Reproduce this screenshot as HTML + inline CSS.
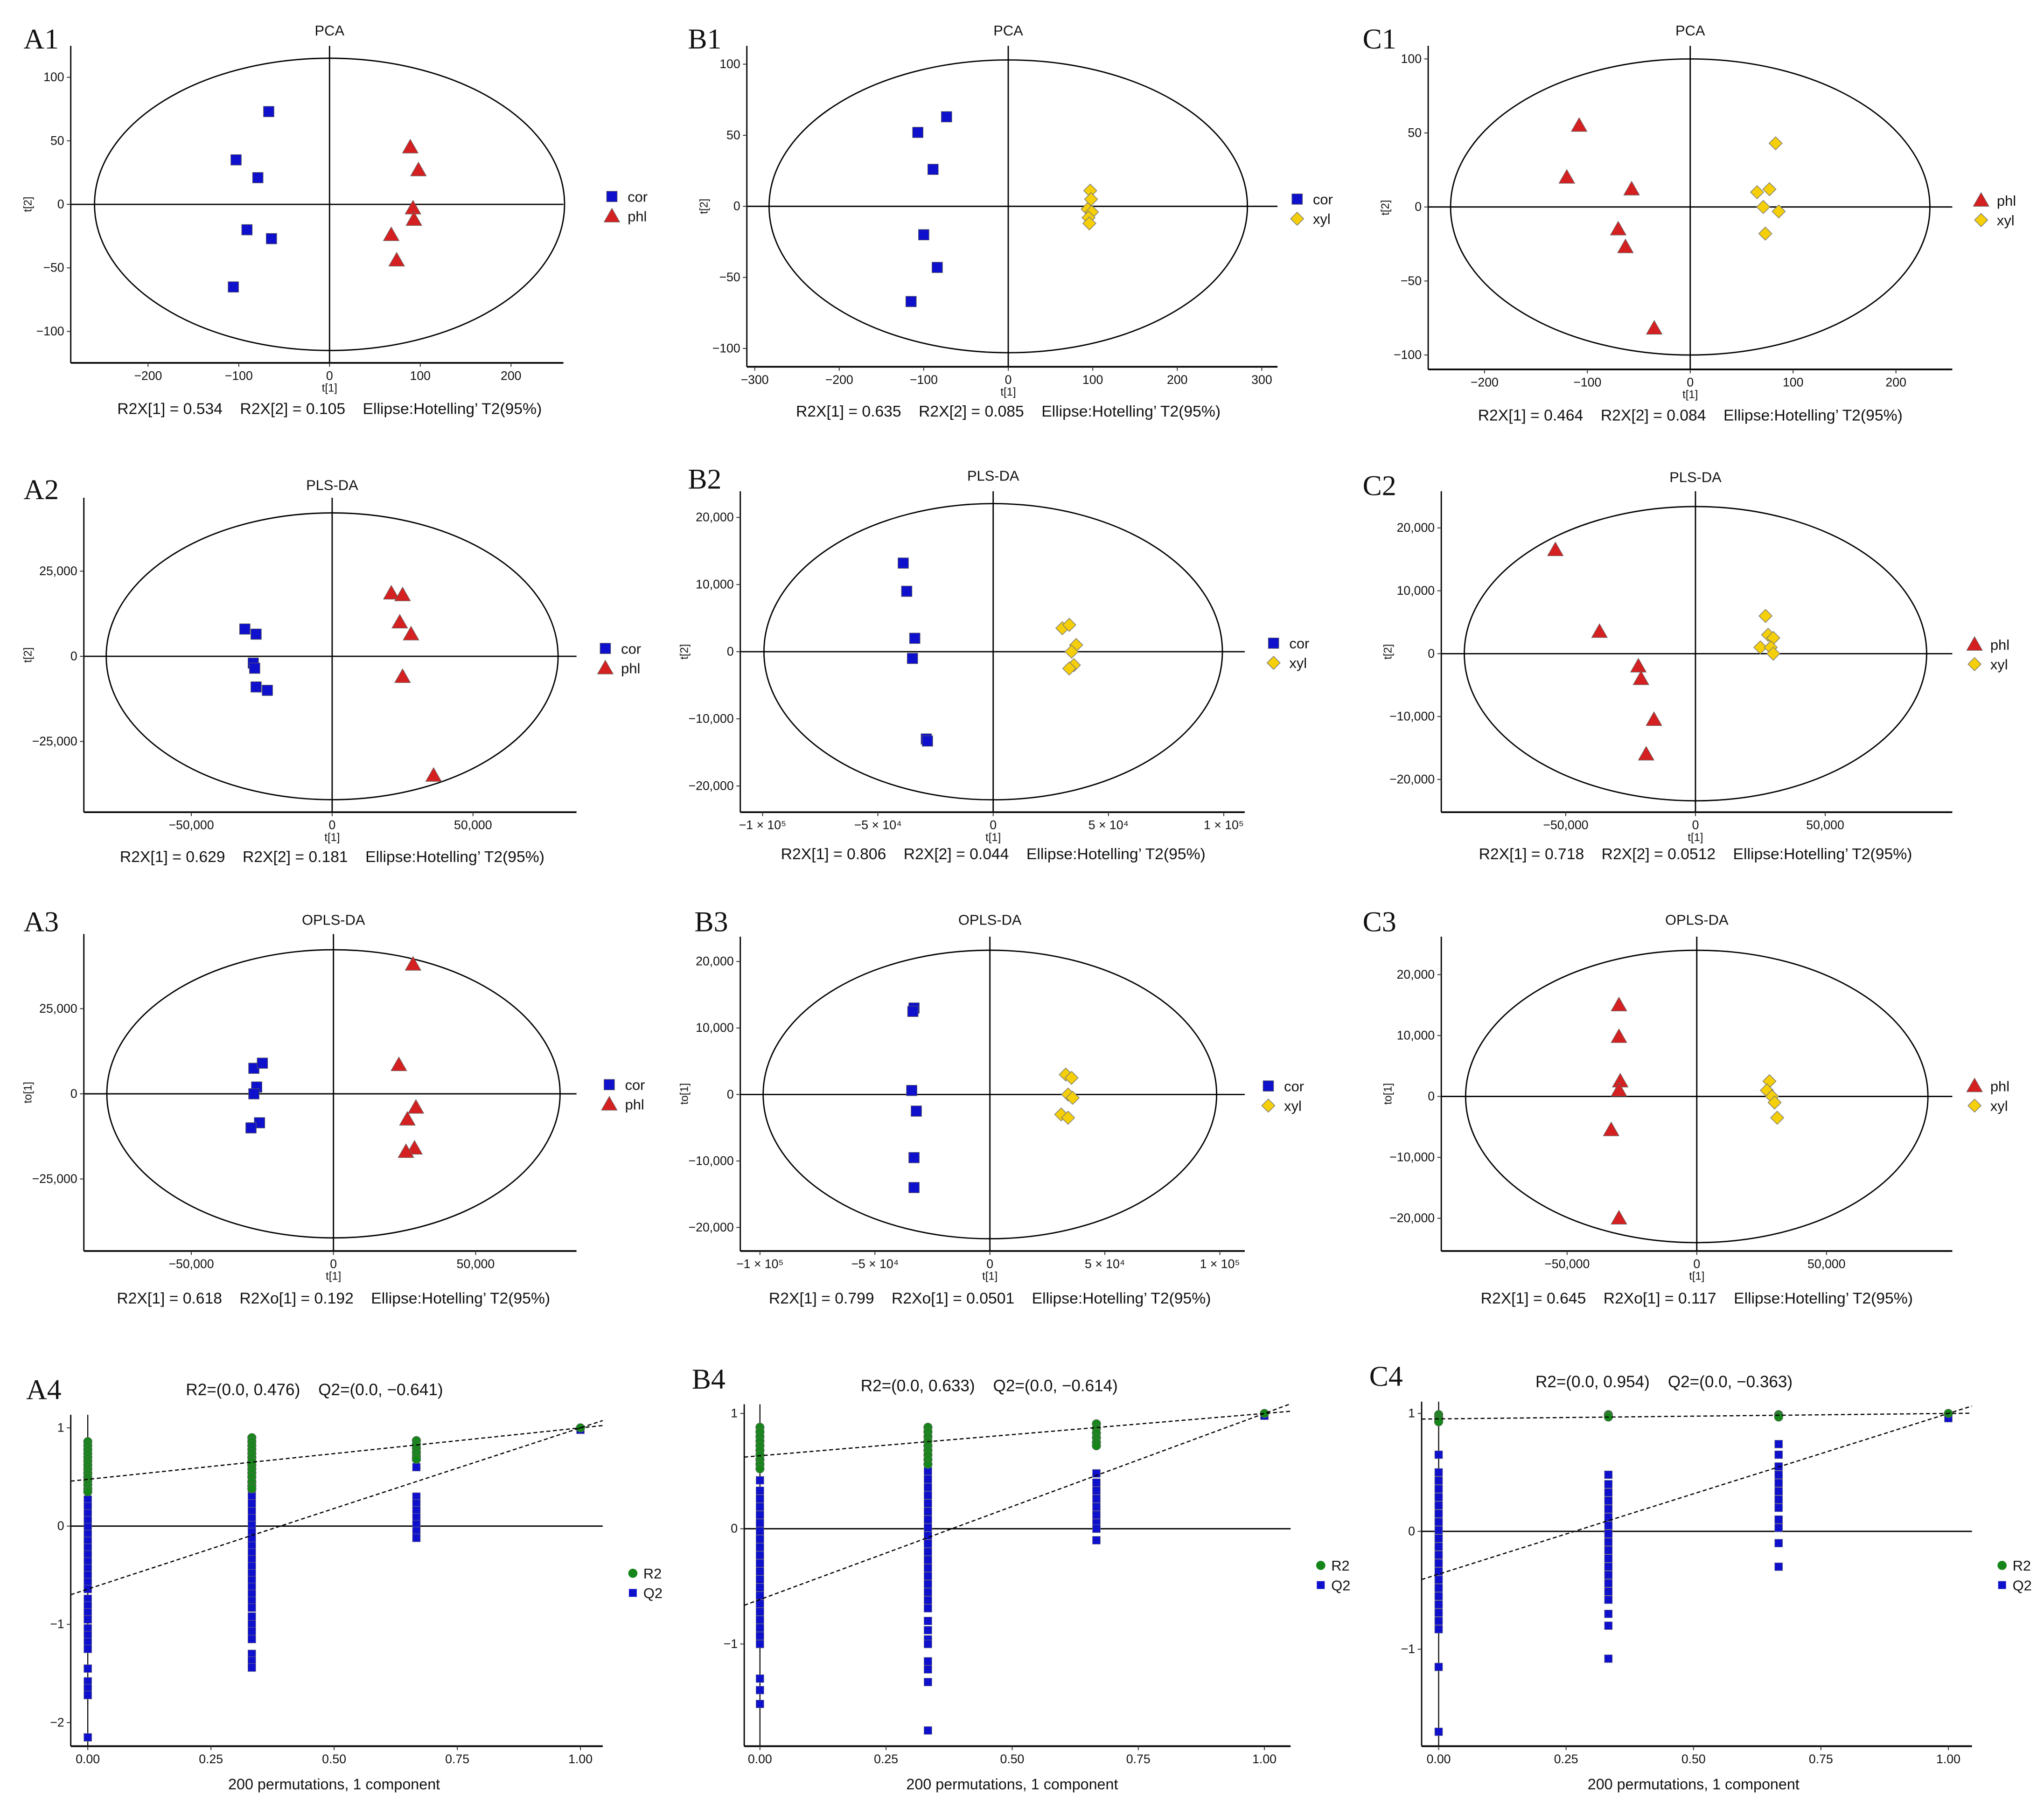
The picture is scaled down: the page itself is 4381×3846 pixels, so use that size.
<!DOCTYPE html>
<html><head><meta charset="utf-8"><style>
html,body{margin:0;padding:0;background:#fff;}
svg{display:block;}
text{font-family:"Liberation Sans",Arial,sans-serif;white-space:pre;}
.lbl{font-family:"Liberation Serif",serif;}
</style></head><body>
<svg id="fig" xmlns="http://www.w3.org/2000/svg" width="4381" height="3846" viewBox="0 0 1560 1369.5" preserveAspectRatio="none"></svg>
<script>
// ---------- Data (score plots) ----------
const a1_cor=[[-67,73],[-103,35],[-79,21],[-91,-20],[-64,-27],[-106,-65]];
const a1_phl=[[89,45],[98,27],[92,-3],[93,-12],[68,-24],[74,-44]];
const b1_cor=[[-73,63],[-107,52],[-89,26],[-100,-20],[-84,-43],[-115,-67]];
const b1_xyl=[[97,11],[98,5],[94,-2],[99,-4],[95,-8],[96,-12]];
const c1_phl=[[-108,55],[-120,20],[-57,12],[-70,-15],[-63,-27],[-35,-82]];
const c1_xyl=[[83,43],[65,10],[77,12],[71,0],[86,-3],[73,-18]];
const a2_cor=[[-31000,8000],[-27000,6500],[-28000,-2000],[-27500,-3500],[-27000,-9000],[-23000,-10000]];
const a2_phl=[[21000,18500],[25000,18000],[24000,10000],[28000,6500],[25000,-6000],[36000,-35000]];
const b2_cor=[[-39000,13200],[-37500,9000],[-34000,2000],[-35000,-1000],[-29000,-13000],[-28500,-13300]];
const b2_xyl=[[30000,3500],[33000,4000],[36000,1000],[34000,0],[35000,-2000],[33000,-2500]];
const c2_phl=[[-54000,16500],[-37000,3500],[-22000,-2000],[-21000,-4000],[-16000,-10500],[-19000,-16000]];
const c2_xyl=[[27000,6000],[28000,3000],[30000,2500],[25000,1000],[29000,1000],[30000,0]];
const a3_cor=[[-28000,7500],[-25000,9000],[-27000,2000],[-28000,0],[-26000,-8500],[-29000,-10000]];
const a3_phl=[[28000,38000],[23000,8500],[29000,-4000],[26000,-7500],[28500,-16000],[25500,-17000]];
const b3_cor=[[-33000,13000],[-33500,12500],[-34000,600],[-32000,-2500],[-33000,-9500],[-33000,-14000]];
const b3_xyl=[[33000,3000],[35500,2500],[34000,0],[36000,-500],[31000,-3000],[34000,-3500]];
const c3_phl=[[-30000,15000],[-30000,9800],[-29500,2500],[-30000,1000],[-33000,-5500],[-30000,-20000]];
const c3_xyl=[[28000,2500],[27000,1000],[29000,0],[30000,-1000],[31000,-3500]];
// tick labels
const pcaTicksA1x=[-200,-100,0,100,200], pcaTicksA1y=[100,50,0,-50,-100];
const pcaTicksB1x=[-300,-200,-100,0,100,200,300];
const plsTicks50k=[-50000,0,50000], plsTicks25k=[25000,0,-25000];
const plsTicks1e5=[-100000,-50000,0,50000,100000], plsTicks10k=[20000,10000,0,-10000,-20000];
const sciLabels=["\u22121 \u00d7 10\u2075","\u22125 \u00d7 10\u2074","0","5 \u00d7 10\u2074","1 \u00d7 10\u2075"];
// ---------- Data (permutation tests) ----------
const permX=[0,0.333,0.667,1];
const permTicksX=[0,0.25,0.5,0.75,1];
const a4_r2=[[0.86,0.82,0.78,0.74,0.7,0.66,0.62,0.58,0.54,0.5,0.46,0.42,0.38,0.35],[0.9,0.86,0.82,0.78,0.74,0.7,0.66,0.62,0.58,0.54,0.5,0.45,0.41,0.38],[0.87,0.83,0.79,0.75,0.71,0.68],[1]];
const a4_q2=[[0.27,0.2,0.13,0.06,-0.01,-0.08,-0.15,-0.22,-0.29,-0.36,-0.43,-0.5,-0.57,-0.64,-0.74,-0.81,-0.88,-0.95,-1.04,-1.11,-1.18,-1.25,-1.45,-1.58,-1.65,-1.72,-2.15],[0.45,0.38,0.3,0.23,0.15,0.08,0.01,-0.06,-0.13,-0.2,-0.27,-0.34,-0.41,-0.48,-0.55,-0.62,-0.69,-0.76,-0.83,-0.92,-1.0,-1.07,-1.15,-1.3,-1.37,-1.44],[0.6,0.3,0.23,0.16,0.09,0.02,-0.05,-0.12],[0.98]];
const b4_r2=[[0.88,0.84,0.8,0.76,0.72,0.68,0.64,0.6,0.56,0.52],[0.88,0.84,0.8,0.76,0.72,0.68,0.64,0.6,0.56],[0.91,0.87,0.83,0.79,0.75,0.72],[1]];
const b4_q2=[[0.55,0.42,0.33,0.26,0.19,0.12,0.05,-0.02,-0.09,-0.16,-0.23,-0.3,-0.37,-0.44,-0.51,-0.58,-0.65,-0.72,-0.79,-0.86,-0.93,-1.0,-1.3,-1.4,-1.52],[0.5,0.43,0.36,0.29,0.22,0.15,0.08,0.01,-0.06,-0.13,-0.2,-0.27,-0.34,-0.41,-0.48,-0.55,-0.62,-0.69,-0.8,-0.88,-0.96,-1.0,-1.15,-1.22,-1.33,-1.75],[0.48,0.4,0.33,0.26,0.19,0.12,0.05,0.0,-0.1],[0.98]];
const c4_r2=[[0.99,0.97,0.95,0.93],[0.99,0.98,0.97],[0.99,0.98,0.97],[1]];
const c4_q2=[[0.65,0.5,0.43,0.36,0.29,0.22,0.15,0.08,0.01,-0.06,-0.13,-0.2,-0.27,-0.34,-0.41,-0.48,-0.55,-0.62,-0.69,-0.76,-0.83,-1.15,-1.7],[0.48,0.4,0.33,0.26,0.19,0.12,0.05,-0.02,-0.09,-0.16,-0.23,-0.3,-0.37,-0.44,-0.51,-0.58,-0.7,-0.8,-1.08],[0.74,0.65,0.55,0.48,0.41,0.34,0.27,0.2,0.1,0.03,-0.1,-0.3],[0.96]];
const a4_int=[0.476,-0.641], b4_int=[0.633,-0.614], c4_int=[0.954,-0.363];

const NS="http://www.w3.org/2000/svg";
const svg=document.getElementById('fig');
function mk(tag,attrs,parent){const e=document.createElementNS(NS,tag);for(const k in attrs)e.setAttribute(k,attrs[k]);(parent||svg).appendChild(e);return e;}
function txt(s,x,y,size,anchor,parent,cls){const t=mk('text',{x:x,y:y,'font-size':size,'text-anchor':anchor||'middle',fill:'#111'},parent);if(cls)t.setAttribute('class',cls);t.textContent=s;return t;}
function lin(v0,p0,v1,p1){return v=>p0+(v-v0)*(p1-p0)/(v1-v0);}
function fmt(v){if(v===0)return"0";let s=Math.abs(v)>=1000?Math.abs(v).toLocaleString('en-US'):String(Math.abs(v));return (v<0?"\u2212":"")+s;}
const colors={cor:'#0f10cc',phl:'#d42020',xyl:'#f5cf0a'};
function marker(kind,cx,cy,g){
  let e;
  if(kind==='cor'){e=mk('rect',{x:cx-4,y:cy-4,width:8,height:8,fill:colors.cor,stroke:'#555','stroke-width':0.4},g);}
  else if(kind==='phl'){e=mk('polygon',{points:`${cx},${cy-6} ${cx-6},${cy+4.5} ${cx+6},${cy+4.5}`,fill:colors.phl,stroke:'#666','stroke-width':0.4},g);}
  else {e=mk('polygon',{points:`${cx},${cy-5} ${cx+5},${cy} ${cx},${cy+5} ${cx-5},${cy}`,fill:colors.xyl,stroke:'#777','stroke-width':0.5},g);}
  return e;
}
function scorePanel(p){
  const g=mk('g',{});
  
  
  const X=lin(p.xt[0],p.xp[0],p.xt[1],p.xp[1]), Y=lin(p.yt[0],p.yp[0],p.yt[1],p.yp[1]);
  const L=p.box[0],T=p.box[1],R=p.box[2],B=p.box[3];
  const lab=txt(p.label,p.lx,p.ly,22,'start',g,'lbl');
  
  
  const tt=txt(p.title,X(0),p.ty,11,'middle',g);
  
  
  mk('line',{x1:L,y1:T,x2:L,y2:B,stroke:'#000','stroke-width':1},g);
  mk('line',{x1:L,y1:B,x2:R,y2:B,stroke:'#000','stroke-width':1.3},g);
  mk('line',{x1:X(0),y1:T,x2:X(0),y2:B,stroke:'#000','stroke-width':1},g);
  mk('line',{x1:L,y1:Y(0),x2:R,y2:Y(0),stroke:'#000','stroke-width':1},g);
  const el=mk('ellipse',{cx:X(0),cy:Y(0),rx:Math.abs(X(p.ell[0])-X(0)),ry:Math.abs(Y(p.ell[1])-Y(0)),fill:'none',stroke:'#000','stroke-width':1},g);
  
  
  p.xticks.forEach((v,i)=>{mk('line',{x1:X(v),y1:B,x2:X(v),y2:B+3,stroke:'#333','stroke-width':0.7},g);
    const t=txt(p.xlab?p.xlab[i]:fmt(v),X(v),B+13,9.5,'middle',g);
    
    });
  p.yticks.forEach(v=>{mk('line',{x1:L-3,y1:Y(v),x2:L,y2:Y(v),stroke:'#333','stroke-width':0.7},g);
    const t=txt(fmt(v),L-5,Y(v)+3,9.5,'end',g);
    
    });
  const xl=txt(p.xname,X(0),B+22,8.5,'middle',g);
  
  
  const yl=txt(p.yname,0,0,8.5,'middle',g);
  yl.setAttribute('transform',`translate(${p.ynx},${(T+B)/2}) rotate(-90)`);
  
  
  p.groups.forEach(([kind,data])=>{data.forEach(d=>{const m=marker(kind,X(d[0]),Y(d[1]),g);
    
    });});
  p.groups.forEach(([kind],i)=>{const m=marker(kind,p.leg[0],p.leg[1]+i*15,g);
    
    
    const t=txt(kind,p.leg[0]+12,p.leg[1]+i*15+4,11,'start',g);
    
    });
  const f=txt(p.foot,X(0),p.fy,12,'middle',g);
  
  
}
const panels=[
 {id:'a1',label:'A1',lx:18,ly:37,title:'PCA',ty:27,box:[54,35,430,277],xt:[-200,200],xp:[113,390],yt:[100,-100],yp:[59,253],ell:[259,115],xticks:pcaTicksA1x,yticks:pcaTicksA1y,xname:'t[1]',yname:'t[2]',ynx:24,groups:[['cor',a1_cor],['phl',a1_phl]],leg:[467,150],foot:'R2X[1] = 0.534    R2X[2] = 0.105    Ellipse:Hotelling\u2019 T2(95%)',fy:316},
 {id:'b1',label:'B1',lx:525,ly:37,title:'PCA',ty:27,box:[570,35,975,280],xt:[-300,300],xp:[576,963],yt:[100,-100],yp:[49,266],ell:[283,103],xticks:pcaTicksB1x,yticks:pcaTicksA1y,xname:'t[1]',yname:'t[2]',ynx:540,groups:[['cor',b1_cor],['xyl',b1_xyl]],leg:[990,152],foot:'R2X[1] = 0.635    R2X[2] = 0.085    Ellipse:Hotelling\u2019 T2(95%)',fy:318},
 {id:'c1',label:'C1',lx:1040,ly:37,title:'PCA',ty:27,box:[1090,35,1490,282],xt:[-200,200],xp:[1133,1447],yt:[100,-100],yp:[45,271],ell:[233,100],xticks:pcaTicksA1x,yticks:pcaTicksA1y,xname:'t[1]',yname:'t[2]',ynx:1060,groups:[['phl',c1_phl],['xyl',c1_xyl]],leg:[1512,153],foot:'R2X[1] = 0.464    R2X[2] = 0.084    Ellipse:Hotelling\u2019 T2(95%)',fy:321},
 {id:'a2',label:'A2',lx:18,ly:381,title:'PLS-DA',ty:374,box:[64,380,440,620],xt:[-50000,50000],xp:[146,361],yt:[25000,-25000],yp:[436,566],ell:[80200,42100],xticks:plsTicks50k,yticks:plsTicks25k,xname:'t[1]',yname:'t[2]',ynx:24,groups:[['cor',a2_cor],['phl',a2_phl]],leg:[462,495],foot:'R2X[1] = 0.629    R2X[2] = 0.181    Ellipse:Hotelling\u2019 T2(95%)',fy:658},
 {id:'b2',label:'B2',lx:525,ly:373,title:'PLS-DA',ty:367,box:[565,375,950,620],xt:[-100000,100000],xp:[582,934],yt:[20000,-20000],yp:[395,600],ell:[99400,22060],xticks:plsTicks1e5,xlab:sciLabels,yticks:plsTicks10k,xname:'t[1]',yname:'t[2]',ynx:525,groups:[['cor',b2_cor],['xyl',b2_xyl]],leg:[972,491],foot:'R2X[1] = 0.806    R2X[2] = 0.044    Ellipse:Hotelling\u2019 T2(95%)',fy:656},
 {id:'c2',label:'C2',lx:1040,ly:378,title:'PLS-DA',ty:368,box:[1100,375,1490,620],xt:[-50000,50000],xp:[1195,1393],yt:[20000,-20000],yp:[403,595],ell:[89100,23400],xticks:plsTicks50k,yticks:plsTicks10k,xname:'t[1]',yname:'t[2]',ynx:1062,groups:[['phl',c2_phl],['xyl',c2_xyl]],leg:[1507,492],foot:'R2X[1] = 0.718    R2X[2] = 0.0512    Ellipse:Hotelling\u2019 T2(95%)',fy:656},
 {id:'a3',label:'A3',lx:18,ly:711,title:'OPLS-DA',ty:706,box:[64,713,440,955],xt:[-50000,50000],xp:[146,363],yt:[25000,-25000],yp:[770,900],ell:[79700,42300],xticks:plsTicks50k,yticks:plsTicks25k,xname:'t[1]',yname:'to[1]',ynx:24,groups:[['cor',a3_cor],['phl',a3_phl]],leg:[465,828],foot:'R2X[1] = 0.618    R2Xo[1] = 0.192    Ellipse:Hotelling\u2019 T2(95%)',fy:995},
 {id:'b3',label:'B3',lx:530,ly:711,title:'OPLS-DA',ty:706,box:[565,715,950,955],xt:[-100000,100000],xp:[580,931],yt:[20000,-20000],yp:[734,937],ell:[98600,21700],xticks:plsTicks1e5,xlab:sciLabels,yticks:plsTicks10k,xname:'t[1]',yname:'to[1]',ynx:525,groups:[['cor',b3_cor],['xyl',b3_xyl]],leg:[968,829],foot:'R2X[1] = 0.799    R2Xo[1] = 0.0501    Ellipse:Hotelling\u2019 T2(95%)',fy:995},
 {id:'c3',label:'C3',lx:1040,ly:711,title:'OPLS-DA',ty:706,box:[1100,715,1490,955],xt:[-50000,50000],xp:[1196,1394],yt:[20000,-20000],yp:[744,930],ell:[89100,24000],xticks:plsTicks50k,yticks:plsTicks10k,xname:'t[1]',yname:'to[1]',ynx:1062,groups:[['phl',c3_phl],['xyl',c3_xyl]],leg:[1507,829],foot:'R2X[1] = 0.645    R2Xo[1] = 0.117    Ellipse:Hotelling\u2019 T2(95%)',fy:995}
];
panels.forEach(scorePanel);

function permPanel(p){
  const g=mk('g',{});
  
  
  const X=lin(0,p.xp[0],1,p.xp[1]), Y=lin(1,p.yp[0],0,p.yp[1]);
  const L=p.box[0],T=p.box[1],R=p.box[2],B=p.box[3];
  const lab=txt(p.label,p.lx,p.ly,22,'start',g,'lbl');
  
  
  const tt=txt(`R2=(0.0, ${p.int[0].toFixed(3)})    Q2=(0.0, \u2212${Math.abs(p.int[1]).toFixed(3)})`,p.tx,p.ty,12.5,'middle',g);
  
  
  mk('line',{x1:L,y1:T,x2:L,y2:B,stroke:'#000','stroke-width':1},g);
  mk('line',{x1:L,y1:B,x2:R,y2:B,stroke:'#000','stroke-width':1.3},g);
  mk('line',{x1:X(0),y1:T,x2:X(0),y2:B,stroke:'#000','stroke-width':0.8},g);
  mk('line',{x1:L,y1:Y(0),x2:R,y2:Y(0),stroke:'#000','stroke-width':1},g);
  permTicksX.forEach(v=>{mk('line',{x1:X(v),y1:B,x2:X(v),y2:B+3,stroke:'#333','stroke-width':0.7},g);
    const t=txt(v.toFixed(2),X(v),B+13,9.5,'middle',g);
    
    });
  p.yticks.forEach(v=>{mk('line',{x1:L-3,y1:Y(v),x2:L,y2:Y(v),stroke:'#333','stroke-width':0.7},g);
    const t=txt(fmt(v),L-5,Y(v)+3,9.5,'end',g);
    
    });
  const xl=txt('200 permutations, 1 component',X(0.5),B+33,11.5,'middle',g);
  
  
  p.q2.forEach((col,i)=>col.forEach(v=>{const r=mk('rect',{x:X(permX[i])-3,y:Y(v)-3,width:6,height:6,fill:'#0f10cc',stroke:'#777','stroke-width':0.3},g);
    
    }));
  p.r2.forEach((col,i)=>col.forEach(v=>{const c=mk('circle',{cx:X(permX[i]),cy:Y(v),r:3.3,fill:'#17861a',stroke:'#666','stroke-width':0.3},g);
    
    }));
  const x0=(L-X(0))/(X(1)-X(0)), x1=(R-X(0))/(X(1)-X(0));
  p.int.forEach((b,i)=>{const f=x=>b+(1-b)*x;
    const l=mk('line',{x1:L,y1:Y(f(x0)),x2:R,y2:Y(f(x1)),stroke:'#000','stroke-width':0.9,'stroke-dasharray':'3,2'},g);
    
    });
  const c=mk('circle',{cx:p.leg[0],cy:p.leg[1],r:3.5,fill:'#17861a'},g);
  
  
  const r=mk('rect',{x:p.leg[0]-3,y:p.leg[1]+12,width:6,height:6,fill:'#0f10cc'},g);
  
  
  const t1=txt('R2',p.leg[0]+8,p.leg[1]+4,11,'start',g);
  
  
  const t2=txt('Q2',p.leg[0]+8,p.leg[1]+19,11,'start',g);
  
  
}
[
 {id:'a4',label:'A4',lx:20,ly:1068,tx:240,ty:1065,box:[54,1080,460,1333],xp:[67,443],yp:[1090,1165],yticks:[1,0,-1,-2],r2:a4_r2,q2:a4_q2,int:a4_int,leg:[483,1201]},
 {id:'b4',label:'B4',lx:528,ly:1060,tx:755,ty:1062,box:[568,1072,985,1333],xp:[580,965],yp:[1079,1167],yticks:[1,0,-1],r2:b4_r2,q2:b4_q2,int:b4_int,leg:[1008,1195]},
 {id:'c4',label:'C4',lx:1045,ly:1058,tx:1270,ty:1059,box:[1085,1070,1505,1333],xp:[1098,1487],yp:[1079,1169],yticks:[1,0,-1],r2:c4_r2,q2:c4_q2,int:c4_int,leg:[1528,1195]}
].forEach(permPanel);
</script>
</body></html>
